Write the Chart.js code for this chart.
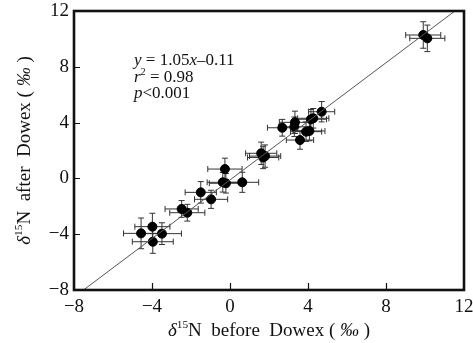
<!DOCTYPE html>
<html>
<head>
<meta charset="utf-8">
<script src="https://cdn.jsdelivr.net/npm/chart.js@4"></script>
<style>
  html, body { margin: 0; padding: 0; background: #fff; }
</style>
</head>
<body>
<canvas id="chart" width="473" height="343"></canvas>
<script>
// samples: d15N before / after Dowex (per mil)
const beforeVals = [-4.56, -3.98, -3.96, -3.49, -2.48, -2.19, -1.50, -0.97, -0.26, -0.37, -0.21, 0.63,
  1.6, 1.8, 1.7, 2.68, 3.33, 3.3, 3.59, 3.9, 4.07, 4.15, 4.27, 4.7, 9.91, 10.12]
const afterVals = [-3.94, -3.46, -4.54, -3.96, -2.19, -2.46, -1.0, -1.5, 0.67, -0.28, -0.35, -0.28,
  1.8, 1.6, 1.5, 3.63, 4.02, 3.7, 2.75, 3.35, 3.4, 4.24, 4.31, 4.78, 10.28, 10.04]
const beforeErr = [0.9, 0.9, 1.05, 1.0, 0.85, 0.9, 0.8, 0.85, 0.88, 0.8, 0.85, 0.84,
  0.8, 0.8, 0.8, 0.76, 0.8, 0.8, 0.7, 0.8, 0.8, 0.8, 0.8, 0.67, 0.9, 0.9]
const afterErr = [1.1, 0.96, 0.83, 0.78, 0.6, 0.6, 0.77, 0.65, 0.78, 0.7, 0.7, 0.72,
  0.8, 0.8, 0.8, 0.6, 0.8, 0.7, 0.66, 0.7, 0.7, 0.7, 0.7, 0.73, 0.95, 0.95]

const axisMin = -8
const axisMax = 12
const axisStep = 4

// fit: y = 1.05x - 0.11
const slope = 1.05
const intercept = -0.11
const statLines = [
  [["y", "italic"], [" = 1.05", ""], ["x", "italic"], ["\u20130.11", ""]],
  [["r", "italic"], ["2", "sup"], [" = 0.98", ""]],
  [["p", "italic"], ["<0.001", ""]],
]

const fitLine = [
  { x: (axisMin - intercept) / slope, y: axisMin },
  { x: (axisMax - intercept) / slope, y: axisMax },
]
const points = beforeVals.map((x, i) => ({ x: x, y: afterVals[i] }))

const SERIF = "'Liberation Serif', 'DejaVu Serif', serif"

function fmtTick(v) {
  return v < 0 ? "\u2212" + Math.abs(v) : String(v)
}

// draw text made of styled pieces, centred at (cx, cy)
function richText(ctx, parts, cx, cy, size, align) {
  const fontFor = (st) => {
    if (st === "sup") return (size * 0.6) + "px " + SERIF
    if (st === "italic") return "italic " + size + "px " + SERIF
    return size + "px " + SERIF
  }
  let total = 0
  parts.forEach((p) => {
    ctx.font = fontFor(p[1])
    total += ctx.measureText(p[0]).width
  })
  let x = align === "left" ? cx : cx - total / 2
  ctx.textBaseline = "middle"
  ctx.textAlign = "left"
  parts.forEach((p) => {
    ctx.font = fontFor(p[1])
    const dy = p[1] === "sup" ? -size * 0.3 : 0
    ctx.fillText(p[0], x, cy + dy)
    x += ctx.measureText(p[0]).width
  })
}

const errorBars = {
  id: "errorBars",
  beforeDatasetsDraw(chart) {
    const { ctx, scales } = chart
    const xs = scales.x, ys = scales.y
    ctx.save()
    ctx.strokeStyle = "#333"
    ctx.lineWidth = 1
    const cap = 3
    points.forEach((p, i) => {
      const px = xs.getPixelForValue(p.x)
      const py = ys.getPixelForValue(p.y)
      const x1 = xs.getPixelForValue(p.x - beforeErr[i])
      const x2 = xs.getPixelForValue(p.x + beforeErr[i])
      const y1 = ys.getPixelForValue(p.y - afterErr[i])
      const y2 = ys.getPixelForValue(p.y + afterErr[i])
      ctx.beginPath()
      ctx.moveTo(x1, py); ctx.lineTo(x2, py)
      ctx.moveTo(x1, py - cap); ctx.lineTo(x1, py + cap)
      ctx.moveTo(x2, py - cap); ctx.lineTo(x2, py + cap)
      ctx.moveTo(px, y1); ctx.lineTo(px, y2)
      ctx.moveTo(px - cap, y1); ctx.lineTo(px + cap, y1)
      ctx.moveTo(px - cap, y2); ctx.lineTo(px + cap, y2)
      ctx.stroke()
    })
    ctx.restore()
  },
}

const frame = {
  id: "frame",
  afterDraw(chart) {
    const { ctx, chartArea: a, scales } = chart
    ctx.save()
    ctx.strokeStyle = "#111"
    ctx.lineWidth = 1.2
    // inner ticks
    ctx.beginPath()
    scales.x.ticks.forEach((t) => {
      if (t.value <= axisMin || t.value >= axisMax) return
      const x = Math.round(scales.x.getPixelForValue(t.value)) + 0.5
      ctx.moveTo(x, a.bottom); ctx.lineTo(x, a.bottom - 7)
    })
    scales.y.ticks.forEach((t) => {
      if (t.value <= axisMin || t.value >= axisMax) return
      const y = Math.round(scales.y.getPixelForValue(t.value)) + 0.5
      ctx.moveTo(a.left, y); ctx.lineTo(a.left + 6, y)
    })
    ctx.stroke()
    ctx.lineWidth = 2.6
    ctx.strokeRect(a.left, a.top, a.right - a.left, a.bottom - a.top)

    // stats text
    ctx.fillStyle = "#111"
    statLines.forEach((line, i) => {
      richText(ctx, line, 134, 61 + i * 16.5, 17, "left")
    })

    // axis titles
    const midX = (a.left + a.right) / 2
    richText(ctx, [["\u03B4", "italic"], ["15", "sup"], ["N  before  Dowex ( ", ""], ["\u2030", "italic"], [" )", ""]],
      midX, 331, 19)
    ctx.save()
    ctx.translate(25, (a.top + a.bottom) / 2)
    ctx.rotate(-Math.PI / 2)
    richText(ctx, [["\u03B4", "italic"], ["15", "sup"], ["N  after  Dowex ( ", ""], ["\u2030", "italic"], [" )", ""]],
      0, 0, 19)
    ctx.restore()
    ctx.restore()
  },
}

const axisOpts = (fit, pad) => ({
  type: "linear",
  min: axisMin,
  max: axisMax,
  border: { display: false },
  grid: { display: false, drawTicks: false },
  ticks: {
    stepSize: axisStep,
    color: "#111",
    padding: pad,
    font: { family: SERIF, size: 19 },
    callback: fmtTick,
  },
  afterFit: fit,
})

new Chart(document.getElementById("chart"), {
  type: "scatter",
  data: {
    datasets: [
      {
        type: "line",
        data: fitLine,
        borderColor: "#555",
        borderWidth: 1,
        pointRadius: 0,
        fill: false,
      },
      {
        data: points,
        backgroundColor: "#000",
        borderColor: "#000",
        pointRadius: 4.5,
      },
    ],
  },
  options: {
    responsive: false,
    animation: false,
    devicePixelRatio: 1,
    layout: { padding: { left: 0, right: 9, top: 11, bottom: 0 } },
    plugins: {
      legend: { display: false },
      tooltip: { enabled: false },
    },
    scales: {
      x: axisOpts((s) => { s.height = 53; s.paddingLeft = 0; s.paddingRight = 0 }, 6),
      y: axisOpts((s) => { s.width = 74; s.paddingTop = 0; s.paddingBottom = 0 }, 5),
    },
  },
  plugins: [errorBars, frame],
})
</script>
</body>
</html>
